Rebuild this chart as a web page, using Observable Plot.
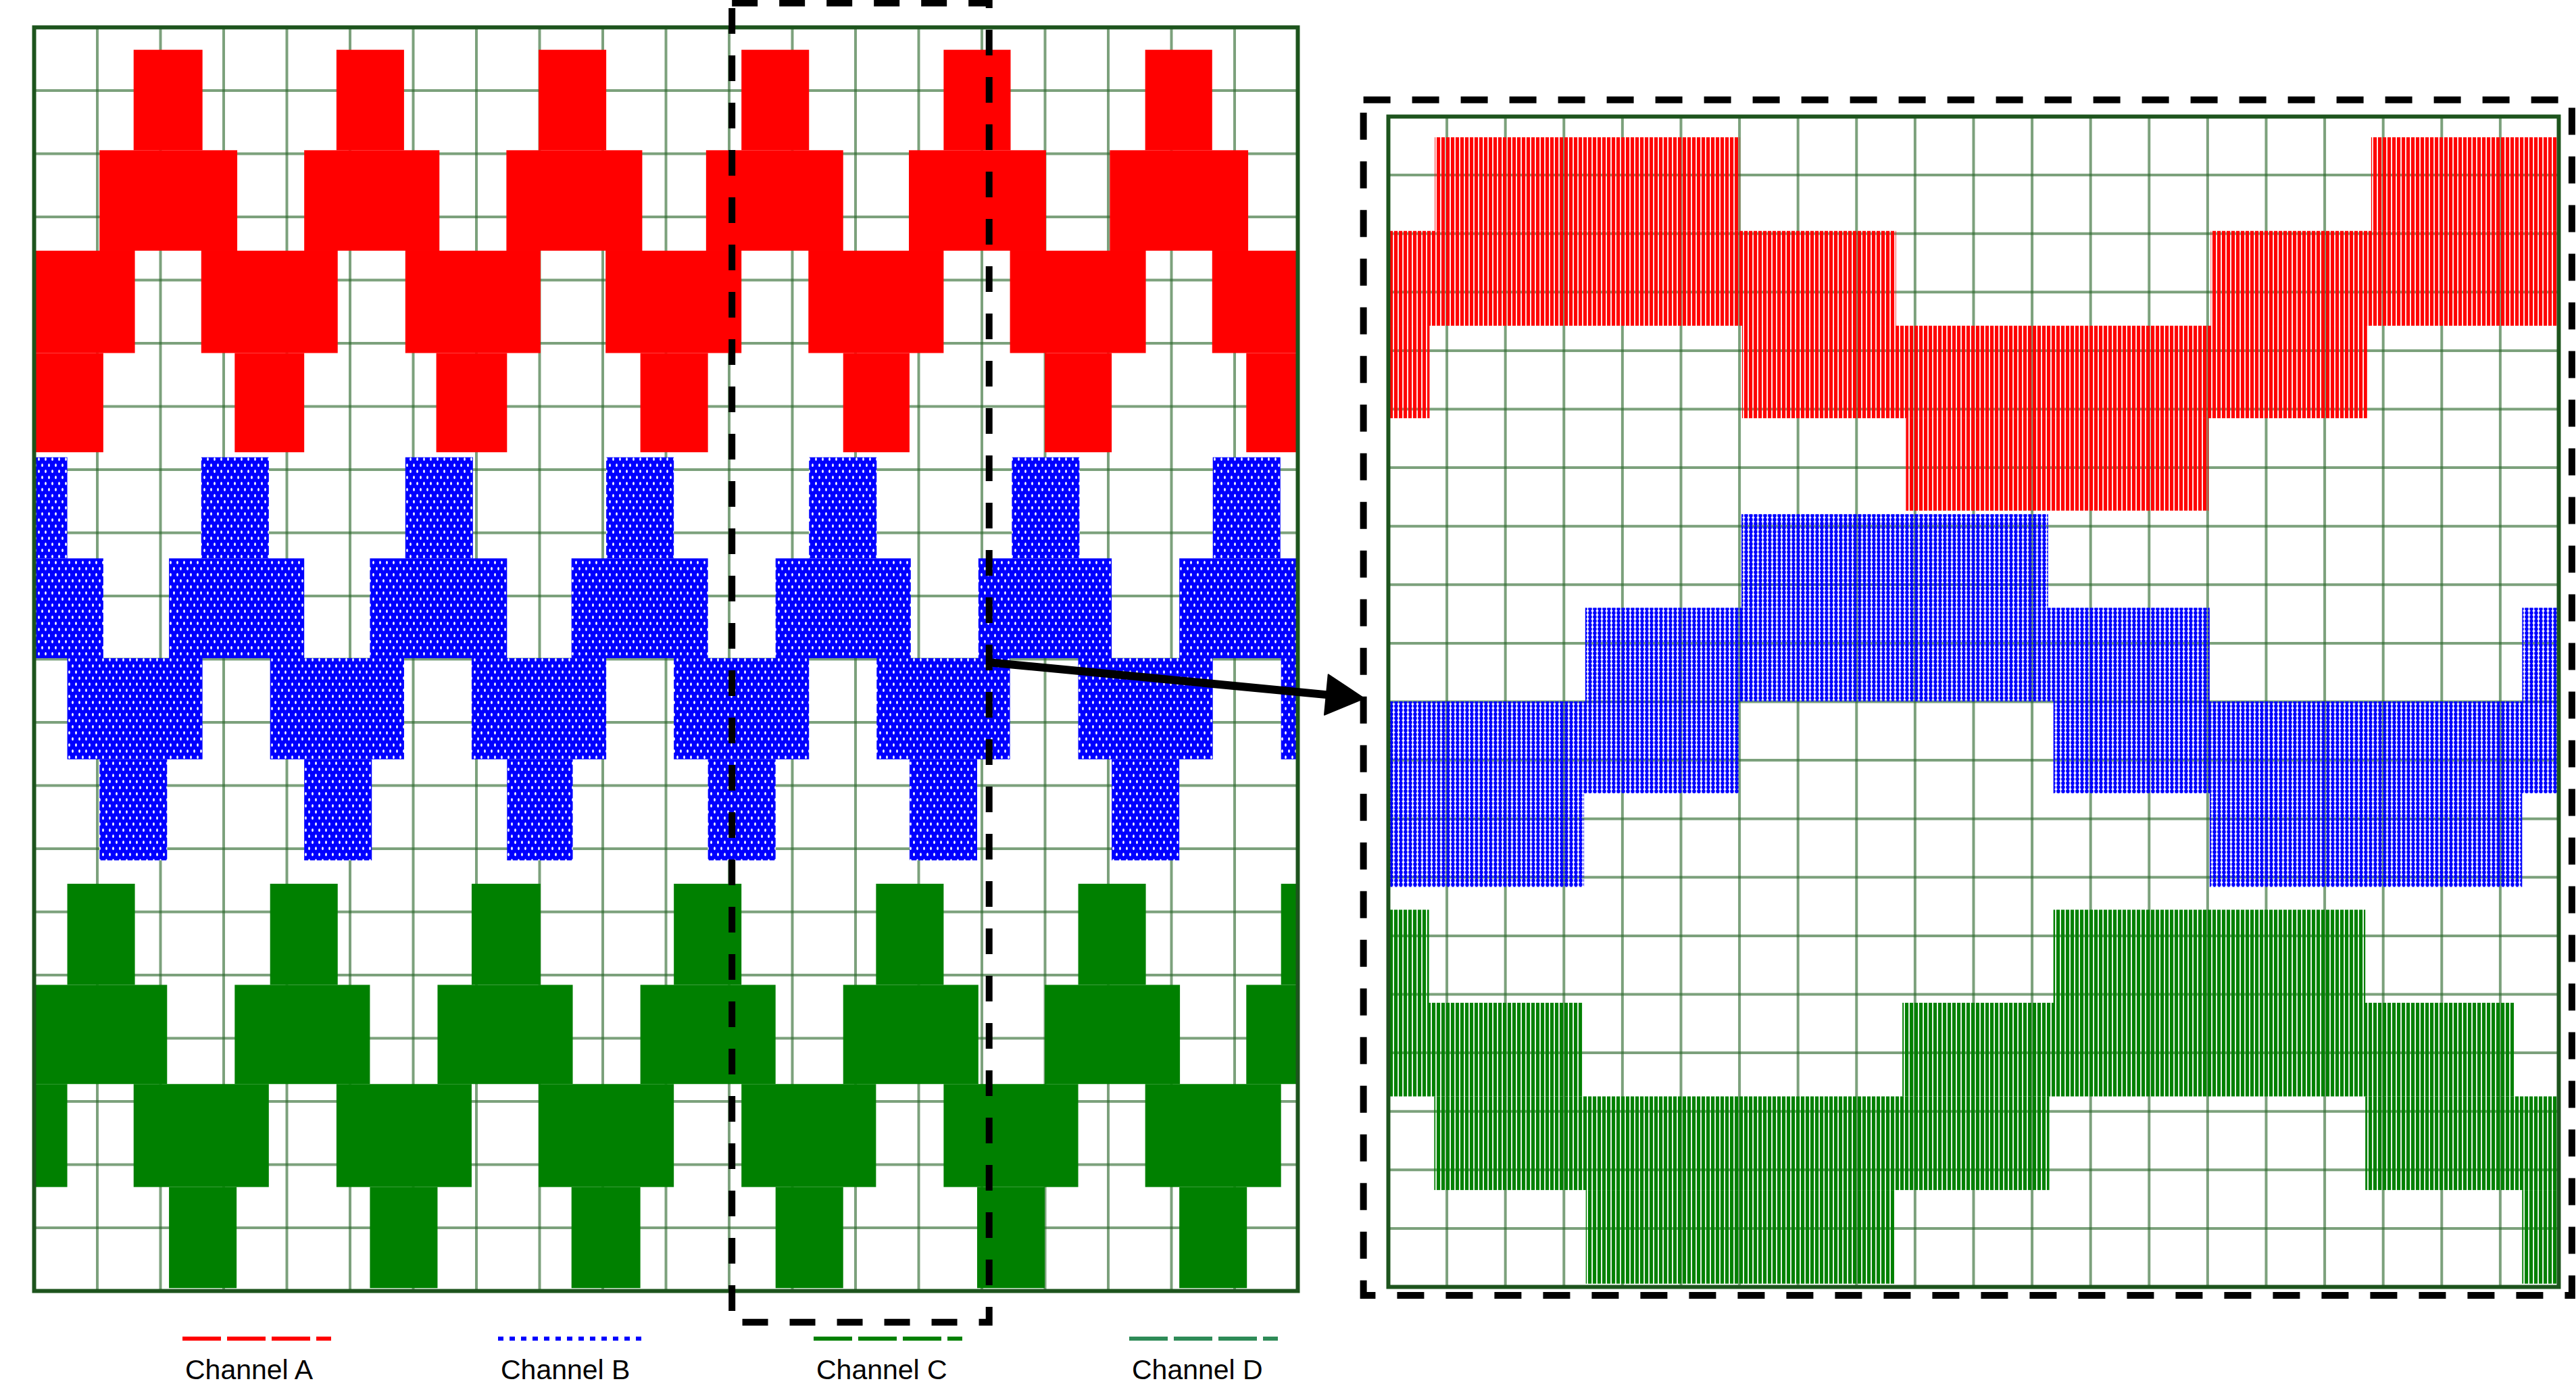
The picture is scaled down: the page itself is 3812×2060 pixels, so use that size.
<!DOCTYPE html>
<html>
<head>
<meta charset="utf-8">
<script src="https://cdn.jsdelivr.net/npm/d3@7"></script>
<script src="https://cdn.jsdelivr.net/npm/@observablehq/plot@0.6"></script>
<style>
  html, body { margin: 0; padding: 0; background: #fff; }
  #page { position: relative; width: 3812px; height: 2060px; overflow: hidden; background: #fff; }
  #left, #right, #legend { position: absolute; }
  #left { left: 0; top: 0; }
  #right { left: 2000px; top: 130px; }
  #legend { left: 0; top: 1960px; width: 2000px; height: 100px; }
  .lg-item { position: absolute; }
  .lg-label { position: absolute; top: 46px; left: 4px; font-family: "Liberation Sans", Arial, sans-serif; font-size: 41px; line-height: 42px; color: #000; white-space: nowrap; }
</style>
</head>
<body>
<div id="page">
  <div id="left"></div>
  <div id="right"></div>
  <div id="legend"></div>
</div>
<script>
// ---------------- DATA ----------------
// grid divisions (20 x 20 on both scopes)
const gridTicks = [0,1,2,3,4,5,6,7,8,9,10,11,12,13,14,15,16,17,18,19,20];

// Channel names / legend
const channels = ["Channel A", "Channel B", "Channel C", "Channel D"];

// --- Overview scope: level boundaries (divisions, bottom -> top) ---
const levelsA = [13.27, 14.84, 16.46, 18.05, 19.64];
const levelsB = [6.81, 8.41, 10.01, 11.59, 13.19];
const levelsC = [0.04, 1.64, 3.27, 4.84, 6.44];

// --- Overview scope: time spans (divisions) where each band between levels is switched, band 0 = lowest ---
const overviewA = [
  [[0,1.1],[3.18,4.28],[6.37,7.49],[9.6,10.67],[12.81,13.86],[16.0,17.06],[19.19,20]],
  [[0,1.6],[2.65,4.81],[5.88,8.02],[9.05,11.2],[12.26,14.4],[15.45,17.6],[18.65,20]],
  [[1.04,3.22],[4.28,6.42],[7.48,9.63],[10.64,12.81],[13.85,16.02],[17.03,19.22]],
  [[1.58,2.67],[4.79,5.86],[7.99,9.06],[11.2,12.27],[14.4,15.46],[17.59,18.65]]
];
const overviewB = [
  [[1.04,2.11],[4.28,5.35],[7.49,8.53],[10.67,11.74],[13.86,14.93],[17.06,18.13]],
  [[0.53,2.67],[3.74,5.86],[6.93,9.06],[10.13,12.27],[13.34,15.45],[16.53,18.66],[19.74,20]],
  [[0,1.1],[2.14,4.28],[5.32,7.49],[8.51,10.67],[11.74,13.88],[14.95,17.06],[18.13,20]],
  [[0,0.53],[2.65,3.72],[5.88,6.95],[9.06,10.13],[12.27,13.34],[15.48,16.55],[18.66,19.73]]
];
const overviewC = [
  [[2.14,3.21],[5.32,6.39],[8.51,9.6],[11.74,12.81],[14.93,16.0],[18.13,19.2]],
  [[0,0.53],[1.58,3.72],[4.79,6.93],[7.99,10.13],[11.2,13.33],[14.4,16.53],[17.59,19.74]],
  [[0,2.11],[3.18,5.32],[6.39,8.53],[9.6,11.74],[12.81,14.95],[16.0,18.14],[19.19,20]],
  [[0.53,1.6],[3.74,4.81],[6.93,8.02],[10.13,11.2],[13.33,14.4],[16.53,17.6],[19.74,20]]
];

// --- Zoomed scope: level boundaries ---
const zoomLevelsA = [13.26, 14.84, 16.42, 18.04, 19.64];
const zoomLevelsB = [6.83, 8.43, 10.0, 11.6, 13.2];
const zoomLevelsC = [0.05, 1.65, 3.25, 4.85, 6.44];

// --- Zoomed scope: switched time spans per band ---
const zoomA = [
  [[8.85,14.02]],
  [[0,0.71],[6.05,16.73]],
  [[0,8.68],[14.06,20]],
  [[0.8,6.01],[16.8,20]]
];
const zoomB = [
  [[0,3.35],[14.04,19.38]],
  [[0,6.0],[11.37,20]],
  [[3.37,14.04],[19.38,20]],
  [[6.04,11.28]]
];
const zoomC = [
  [[3.38,8.65],[19.38,20]],
  [[0.79,11.3],[16.7,20]],
  [[0,3.32],[8.79,19.24]],
  [[0,0.7],[11.37,16.7]]
];

// --- Annotations (in overview divisions) ---
const zoomWindow = [11.05, 15.12];     // time span enlarged on the right
const zoomWindowY = [-0.5, 20.38];
const arrowFrom = [15.11, 9.95];
const arrowTo = [21.05, 9.38];
// zoomed scope frame (in zoomed divisions)
const zoomFrameX = [-0.42, 20.23];
const zoomFrameY = [-0.15, 20.28];

// ---------------- HELPERS ----------------
function blocks(levels, bands) {
  const rows = [];
  bands.forEach((spans, b) => spans.forEach(([t0, t1]) => rows.push({t0, t1, lo: levels[b], hi: levels[b + 1]})));
  return rows;
}
const RED = "#ff0000", BLUE = "#0000ff", GREEN = "#008000", TEAL = "#2e8b57";
const GRID = "#2c682c", FRAME = "#1d541d";

const baseStyle = {background: "transparent", overflow: "visible", maxWidth: "none"};

function gridMarks(w) {
  return [
    Plot.ruleX(gridTicks, {stroke: GRID, strokeWidth: w, strokeOpacity: 0.62}),
    Plot.ruleY(gridTicks, {stroke: GRID, strokeWidth: w, strokeOpacity: 0.62})
  ];
}

// arrow geometry
const dx = arrowTo[0] - arrowFrom[0], dy = arrowTo[1] - arrowFrom[1];
const len = Math.hypot(dx, dy), ux = dx / len, uy = dy / len;
const headLen = 0.6, headHalf = 0.32;
const base = [arrowTo[0] - ux * headLen, arrowTo[1] - uy * headLen];
const head = [
  {x: base[0] - uy * headHalf, y: base[1] + ux * headHalf},
  {x: arrowTo[0], y: arrowTo[1]},
  {x: base[0] + uy * headHalf, y: base[1] - ux * headHalf}
];

// ---------------- OVERVIEW ----------------
const left = Plot.plot({
  width: 2040, height: 1965,
  marginLeft: 50, marginRight: 120, marginTop: 40, marginBottom: 55,
  x: {domain: [0, 20], axis: null},
  y: {domain: [0, 20], axis: null},
  style: baseStyle,
  marks: [
    ...gridMarks(4),
    Plot.rect(blocks(levelsA, overviewA), {x1: "t0", x2: "t1", y1: "lo", y2: "hi", fill: RED}),
    Plot.rect(blocks(levelsB, overviewB), {x1: "t0", x2: "t1", y1: "lo", y2: "hi", fill: "url(#holesBlue)"}),
    Plot.rect(blocks(levelsC, overviewC), {x1: "t0", x2: "t1", y1: "lo", y2: "hi", fill: GREEN}),
    Plot.frame({stroke: FRAME, strokeWidth: 6}),
    Plot.rect([{x1: zoomWindow[0], x2: zoomWindow[1], y1: zoomWindowY[0], y2: zoomWindowY[1]}],
      {x1: "x1", x2: "x2", y1: "y1", y2: "y2", fill: "none", stroke: "black", strokeWidth: 10, strokeDasharray: "38,32"}),
    Plot.link([{x1: arrowFrom[0], y1: arrowFrom[1], x2: base[0], y2: base[1]}],
      {x1: "x1", y1: "y1", x2: "x2", y2: "y2", stroke: "black", strokeWidth: 12}),
    Plot.line(head, {x: "x", y: "y", fill: "black", stroke: "black", strokeWidth: 2, curve: "linear-closed"})
  ]
});
document.getElementById("left").appendChild(left);

// ---------------- ZOOMED ----------------
const right = Plot.plot({
  width: 1812, height: 1804,
  marginLeft: 54, marginRight: 26, marginTop: 42, marginBottom: 30,
  x: {domain: [0, 20], axis: null},
  y: {domain: [0, 20], axis: null},
  style: baseStyle,
  marks: [
    ...gridMarks(4),
    Plot.rect(blocks(zoomLevelsA, zoomA), {x1: "t0", x2: "t1", y1: "lo", y2: "hi", fill: "url(#stripesRed)"}),
    Plot.rect(blocks(zoomLevelsB, zoomB), {x1: "t0", x2: "t1", y1: "lo", y2: "hi", fill: "url(#dotsBlue)"}),
    Plot.rect(blocks(zoomLevelsC, zoomC), {x1: "t0", x2: "t1", y1: "lo", y2: "hi", fill: "url(#stripesGreen)"}),
    Plot.frame({stroke: FRAME, strokeWidth: 6}),
    Plot.rect([{x1: zoomFrameX[0], x2: zoomFrameX[1], y1: zoomFrameY[0], y2: zoomFrameY[1]}],
      {x1: "x1", x2: "x2", y1: "y1", y2: "y2", fill: "none", stroke: "black", strokeWidth: 10, strokeDasharray: "40,32"})
  ]
});
document.getElementById("right").appendChild(right);

// texture patterns (style only)
const defs = d3.select(left).insert("defs", ":first-child");
const p1 = defs.append("pattern").attr("id", "holesBlue").attr("patternUnits", "userSpaceOnUse").attr("width", 10).attr("height", 18);
p1.append("rect").attr("width", 10).attr("height", 18).attr("fill", BLUE);
p1.append("ellipse").attr("cx", 2.5).attr("cy", 4.5).attr("rx", 1.4).attr("ry", 2.6).attr("fill", "#fff");
p1.append("ellipse").attr("cx", 7.5).attr("cy", 13.5).attr("rx", 1.4).attr("ry", 2.6).attr("fill", "#fff");
const p2 = defs.append("pattern").attr("id", "stripesRed").attr("patternUnits", "userSpaceOnUse").attr("width", 7).attr("height", 40);
p2.append("rect").attr("width", 5.2).attr("height", 40).attr("fill", RED);
const p3 = defs.append("pattern").attr("id", "stripesGreen").attr("patternUnits", "userSpaceOnUse").attr("width", 7).attr("height", 40);
p3.append("rect").attr("width", 5.2).attr("height", 40).attr("fill", GREEN);
const p4 = defs.append("pattern").attr("id", "dotsBlue").attr("patternUnits", "userSpaceOnUse").attr("width", 7).attr("height", 6);
p4.append("ellipse").attr("cx", 3).attr("cy", 3).attr("rx", 2.9).attr("ry", 3.1).attr("fill", BLUE);

// ---------------- LEGEND ----------------
const legendColors = [RED, BLUE, GREEN, TEAL];
const legendDash = ["57,9", "8,9", "57,9", "57,9"];
const legend = d3.select("#legend");
channels.forEach((name, i) => {
  const item = legend.append("div").attr("class", "lg-item").style("left", (270 + 467 * i) + "px").style("top", "0px");
  const s = item.append("svg").attr("width", 220).attr("height", 14).style("position", "absolute").style("top", "14px").style("left", "0px");
  s.append("line").attr("x1", 0).attr("x2", 220).attr("y1", 7).attr("y2", 7)
    .attr("stroke", legendColors[i]).attr("stroke-width", 6).attr("stroke-dasharray", legendDash[i]);
  item.append("div").attr("class", "lg-label").text(name);
});
</script>
</body>
</html>
